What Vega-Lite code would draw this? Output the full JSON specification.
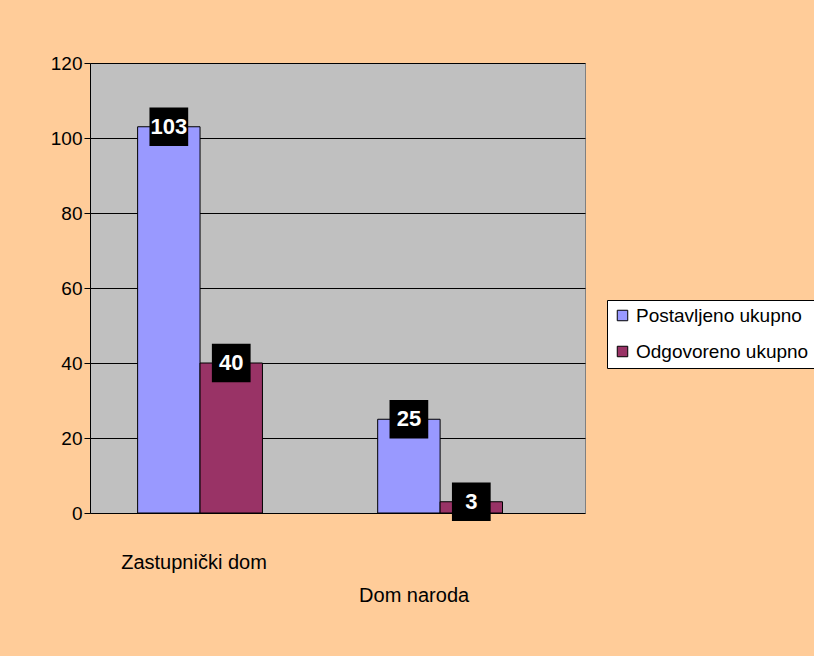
{
  "$schema": "https://vega.github.io/schema/vega-lite/v6.json",
  "width": 495,
  "height": 450,
  "autosize": {"type": "none"},
  "padding": {"left": 90, "top": 63, "right": 229, "bottom": 143},
  "background": "#FFCC99",
  "config": {
    "font": "Liberation Sans",
    "view": {"fill": "#C0C0C0", "stroke": "#808080", "strokeWidth": 1}
  },
  "data": {
    "values": [
      {"dom": "Zastupnički dom", "serija": "Postavljeno ukupno", "broj": 103},
      {"dom": "Zastupnički dom", "serija": "Odgovoreno ukupno", "broj": 40},
      {"dom": "Dom naroda", "serija": "Postavljeno ukupno", "broj": 25},
      {"dom": "Dom naroda", "serija": "Odgovoreno ukupno", "broj": 3}
    ]
  },
  "encoding": {
    "x": {
      "field": "dom",
      "type": "nominal",
      "sort": ["Zastupnički dom", "Dom naroda"],
      "scale": {"paddingInner": 0.48, "paddingOuter": 0.271, "align": 0.366},
      "title": null,
      "axis": {
        "labelAngle": 0,
        "labelFontSize": 20,
        "labelColor": "black",
        "domain": false,
        "ticks": false,
        "labelPadding": {"condition": {"test": "datum.value == 'Dom naroda'", "value": 72}, "value": 39},
        "labelOffset": {"condition": {"test": "datum.value == 'Dom naroda'", "value": -26}, "value": -6}
      }
    },
    "xOffset": {"field": "serija", "type": "nominal", "sort": ["Postavljeno ukupno", "Odgovoreno ukupno"]},
    "y": {
      "field": "broj",
      "type": "quantitative",
      "scale": {"domain": [0, 120]},
      "title": null,
      "axis": {
        "values": [0, 20, 40, 60, 80, 100, 120],
        "labelFontSize": 19,
        "labelColor": "black",
        "domainColor": "black",
        "tickColor": "black",
        "tickSize": 6,
        "gridColor": "black",
        "gridWidth": 1,
        "labelPadding": 2
      }
    }
  },
  "layer": [
    {
      "mark": {"type": "bar", "stroke": "black", "strokeWidth": 1},
      "encoding": {
        "color": {
          "field": "serija",
          "type": "nominal",
          "sort": ["Postavljeno ukupno", "Odgovoreno ukupno"],
          "scale": {"domain": ["Postavljeno ukupno", "Odgovoreno ukupno"], "range": ["#9999FF", "#993366"]},
          "title": null,
          "legend": {
            "orient": "none",
            "legendX": 517,
            "legendY": 237,
            "symbolType": "square",
            "symbolSize": 110,
            "symbolStrokeColor": "black",
            "symbolStrokeWidth": 1,
            "symbolOpacity": 1,
            "labelFontSize": 19,
            "labelColor": "black",
            "labelOffset": 4,
            "fillColor": "white",
            "strokeColor": "black",
            "padding": 6,
            "rowPadding": 16,
            "labelLimit": 300
          }
        }
      }
    },
    {
      "mark": {"type": "point", "shape": "square", "filled": true, "color": "black", "size": 1500, "opacity": 1}
    },
    {
      "mark": {"type": "text", "color": "white", "fontWeight": "bold", "fontSize": 22, "baseline": "middle"},
      "encoding": {"text": {"field": "broj", "type": "quantitative"}}
    }
  ]
}
